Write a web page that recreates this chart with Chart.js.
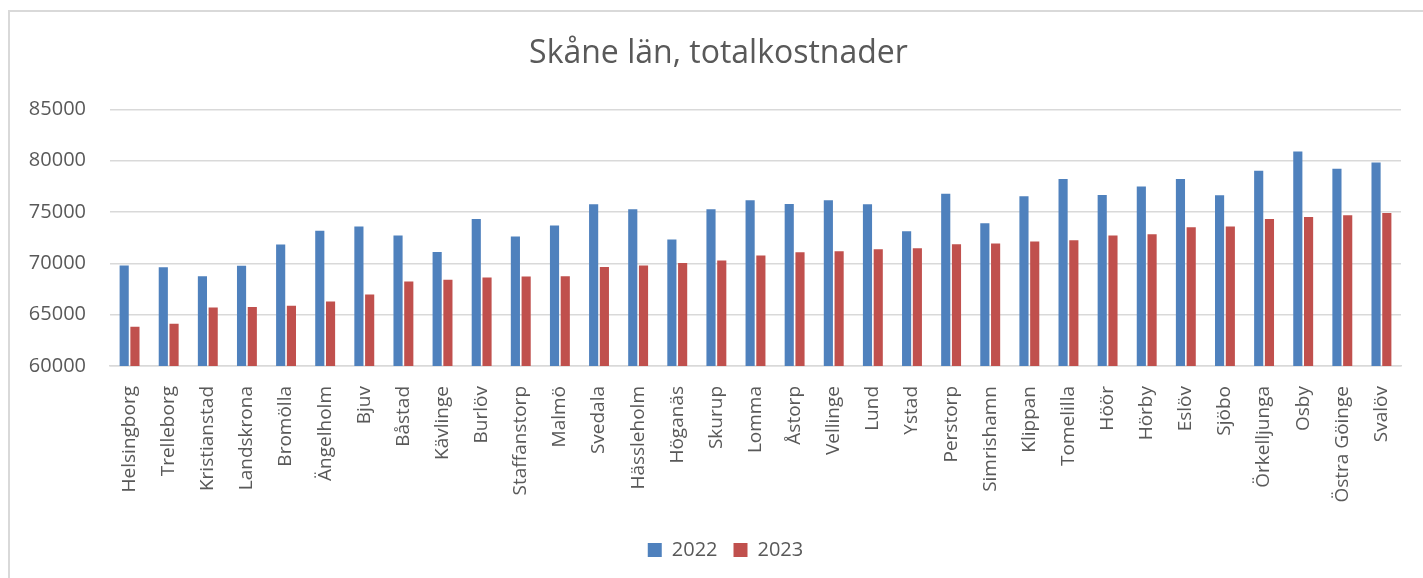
<!DOCTYPE html>
<html>
<head>
<meta charset="utf-8">
<script src="https://cdn.jsdelivr.net/npm/chart.js@4"></script>
<style>
  html, body { margin: 0; padding: 0; background: #fff; }
  #wrap { position: relative; width: 1423px; height: 578px; overflow: hidden; }
  canvas { display: block; }
</style>
</head>
<body>
<div id="wrap"><canvas id="c" width="1423" height="578"></canvas></div>
<script>
const categories = ["Helsingborg","Trelleborg","Kristianstad","Landskrona","Bromölla","Ängelholm","Bjuv","Båstad","Kävlinge","Burlöv","Staffanstorp","Malmö","Svedala","Hässleholm","Höganäs","Skurup","Lomma","Åstorp","Vellinge","Lund","Ystad","Perstorp","Simrishamn","Klippan","Tomelilla","Höör","Hörby","Eslöv","Sjöbo","Örkelljunga","Osby","Östra Göinge","Svalöv"];
const values2022 = [69800,69610,68750,69770,71830,73170,73600,72720,71110,74310,72620,73700,75750,75260,72320,75260,76150,75780,76150,75750,73140,76770,73920,76540,78230,76670,77480,78230,76640,79020,80910,79220,79830];
const values2023 = [63820,64120,65690,65750,65880,66280,66960,68240,68400,68630,68730,68740,69640,69780,70030,70270,70760,71080,71180,71370,71470,71860,71930,72130,72260,72720,72840,73530,73600,74310,74510,74680,74900];
const seriesLabels = ["2022","2023"];
const yTicks = [60000,65000,70000,75000,80000,85000];

const textColor = "#595959";
const gridColor = "#d9d9d9";

const borderPlugin = {
  id: "frame",
  afterLayout(chart) {
    if (chart.titleBlock) { chart.titleBlock.left += 36; }
    if (chart.legend) { chart.legend.left += 50; }
  },
  beforeDraw(chart) {
    const ctx = chart.ctx;
    ctx.save();
    ctx.fillStyle = "#fff";
    ctx.fillRect(0, 0, chart.width, chart.height);
    ctx.strokeStyle = gridColor;
    ctx.lineWidth = 2;
    ctx.strokeRect(9, 11, 1500, 700);
    ctx.restore();
  }
};

new Chart(document.getElementById("c"), {
  type: "bar",
  data: {
    labels: categories,
    datasets: [
      { label: seriesLabels[0], data: values2022, backgroundColor: "#4f81bd", categoryPercentage: 0.55, barPercentage: 0.85 },
      { label: seriesLabels[1], data: values2023, backgroundColor: "#c0504d", categoryPercentage: 0.55, barPercentage: 0.85 }
    ]
  },
  options: {
    responsive: false,
    animation: false,
    devicePixelRatio: 1,
    layout: { padding: { left: 0, right: 22, top: 11, bottom: 8 } },
    plugins: {
      title: {
        display: true,
        text: "Skåne län, totalkostnader",
        color: textColor,
        font: { family: "'Open Sans'", size: 32, weight: "normal" },
        padding: { top: 24, bottom: 36 }
      },
      legend: {
        display: true,
        position: "bottom",
        labels: {
          color: textColor,
          font: { family: "'Open Sans'", size: 20 },
          boxWidth: 14,
          boxHeight: 14,
          padding: 16
        }
      },
      tooltip: { enabled: false }
    },
    scales: {
      x: {
        grid: { display: false },
        border: { display: true, color: gridColor, width: 1.5 },
        ticks: {
          color: textColor,
          font: { family: "'Open Sans'", size: 19 },
          minRotation: 90,
          maxRotation: 90,
          autoSkip: false,
          padding: 12
        },
        afterFit(scale) { scale.height = 158; }
      },
      y: {
        min: 60000,
        max: 85000,
        afterBuildTicks(scale) { scale.ticks = yTicks.map(v => ({ value: v })); },
        grid: { color: gridColor, lineWidth: 1.5, drawTicks: false },
        border: { display: false },
        ticks: {
          color: textColor,
          font: { family: "'Open Sans'", size: 20 },
          padding: 24,
          callback: (v) => String(v)
        },
        afterFit(scale) { scale.width = 110; }
      }
    }
  },
  plugins: [borderPlugin]
});
</script>
</body>
</html>
